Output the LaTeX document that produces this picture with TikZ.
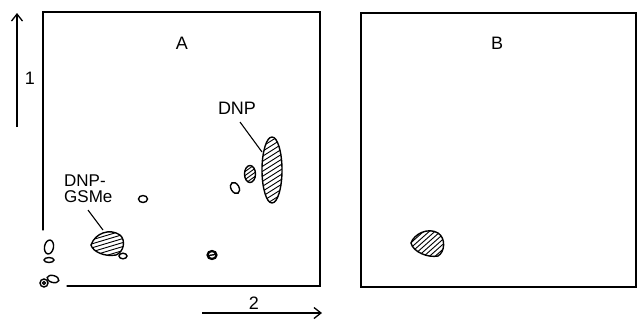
\documentclass[tikz,border=0pt]{standalone}
\usepackage{fontspec}
\setmainfont{Liberation Sans}
\usetikzlibrary{arrows.meta}
\tikzset{
  frame/.style={line width=1.3pt, line cap=round},
  spot/.style={line width=1.4pt},
  hatchline/.style={line width=0.9pt},
  axisarrow/.style={line width=1.3pt, -{Straight Barb[length=7pt,width=11pt,line width=1.3pt]}},
  lbl/.style={font=\fontsize{18}{20}\selectfont, inner sep=0pt},
  leader/.style={line width=1.1pt}
}
\begin{document}
\begin{tikzpicture}[x=1pt,y=-1pt]
\useasboundingbox (0,0) rectangle (637,322);
% panel A frame
\draw[frame] (43,230) -- (43,12) -- (320,12) -- (320,286) -- (67,286);
% panel B frame
\draw[frame] (361,13) rectangle (636,287);
% axis arrows
\coordinate (a1s) at (17,127); \coordinate (a1e) at (17,13);
\draw[axisarrow] (a1s) -- (a1e);
\node[lbl] (one) at (30,78) {1};
\coordinate (a2s) at (202,313); \coordinate (a2e) at (322,313);
\draw[axisarrow] (a2s) -- (a2e);
\node[lbl] (two) at (254,303) {2};
% panel labels
\node[lbl] (labA) at (182,43) {A};
\node[lbl] (labB) at (497,43) {B};
% DNP
\node[lbl] (dnp) at (237,108) {DNP};
\coordinate (dnpl1) at (240,122); \coordinate (dnpl2) at (262,152);
\draw[leader] (dnpl1) -- (dnpl2);
\begin{scope}
 \clip (272,170) ellipse [x radius=10, y radius=33];
 \foreach \k in {-60,-55,...,60} \draw[hatchline] (255,170+\k+11) -- (290,170+\k-11);
\end{scope}
\draw[spot] (272,170) ellipse [x radius=10, y radius=33];
\begin{scope}
 \clip (250,174) ellipse [x radius=5.5, y radius=8.5];
 \foreach \k in {-14,-10,...,14} \draw[hatchline] (243,174+\k+5) -- (257,174+\k-5);
\end{scope}
\draw[spot] (250,174) ellipse [x radius=5.5, y radius=8.5];
\draw[spot] (235,188) ellipse [x radius=4, y radius=6, rotate=30];
% DNP-GSMe
\node[lbl, align=left, anchor=north west, font=\fontsize{17}{16}\selectfont] (gsme) at (64,175) {DNP-\\GSMe};
\coordinate (gl1) at (88,210); \coordinate (gl2) at (103,230);
\draw[leader] (gl1) -- (gl2);
\def\gspot{(91,245) .. controls (95,233) and (110,228) .. (120,235) .. controls (126,240) and (124,252) .. (116,255) .. controls (105,257) and (93,252) .. (91,245) -- cycle}
\begin{scope}
 \clip \gspot;
 \foreach \k in {-20,-16,...,24} \draw[hatchline] (88,243+\k+6) -- (128,243+\k-6);
\end{scope}
\draw[spot] \gspot;
\draw[spot] (123,256) ellipse [x radius=4, y radius=2.8];
% other spots panel A
\draw[spot] (143,199) ellipse [x radius=4.5, y radius=3.5];
\draw[line width=2.2pt] (212,255) ellipse [x radius=4.5, y radius=4];
\draw[line width=1.4pt] (208,257) .. controls (211,253) and (213,257) .. (216,253);
\draw[spot] (49,247) ellipse [x radius=4.5, y radius=7, rotate=-10];
\draw[spot] (49,260) ellipse [x radius=5, y radius=2.5];
\draw[spot] (53,279) ellipse [x radius=6, y radius=3.5, rotate=-15];
\draw[spot, fill=white] (44,283) circle [radius=4];
\draw[spot] (44,283) circle [radius=1.5];
% panel B spot
\def\bspot{(411,243) .. controls (414,234) and (428,227) .. (438,233) .. controls (446,238) and (445,252) .. (438,256) .. controls (428,258) and (413,252) .. (411,243) -- cycle}
\begin{scope}
 \clip \bspot;
 \foreach \k in {-40,-35,...,45} \draw[hatchline] (405,243+\k+20) -- (450,243+\k-20);
\end{scope}
\draw[spot] \bspot;
\end{tikzpicture}
\end{document}
